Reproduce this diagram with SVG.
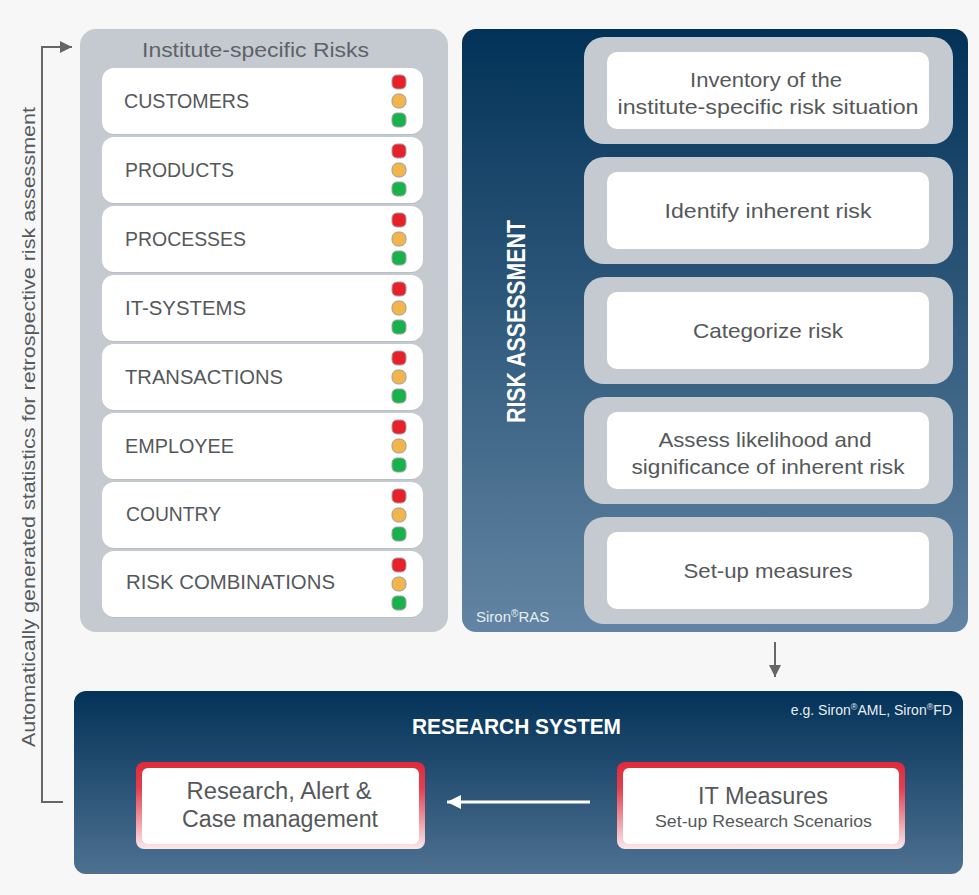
<svg xmlns="http://www.w3.org/2000/svg" width="979" height="895" viewBox="0 0 979 895">
<defs>
<linearGradient id="gRight" x1="0" y1="0" x2="0" y2="1">
<stop offset="0" stop-color="#023258"/>
<stop offset="1" stop-color="#6385a3"/>
</linearGradient>
<linearGradient id="gBottom" x1="0" y1="0" x2="0" y2="1">
<stop offset="0" stop-color="#033258"/>
<stop offset="1" stop-color="#4e7191"/>
</linearGradient>
<linearGradient id="gRed" x1="0" y1="0" x2="0" y2="1">
<stop offset="0" stop-color="#de2a3b"/>
<stop offset="0.3" stop-color="#e2404e"/>
<stop offset="1" stop-color="#fbe9eb"/>
</linearGradient>
<marker id="mGray" viewBox="0 0 10 10" refX="10" refY="5" markerWidth="17" markerHeight="12" markerUnits="userSpaceOnUse" orient="auto">
<path d="M0,0 L10,5 L0,10 Z" fill="#666"/>
</marker>
<marker id="mWhite" viewBox="0 0 10 10" refX="10" refY="5" markerWidth="16" markerHeight="14" markerUnits="userSpaceOnUse" orient="auto">
<path d="M0,0 L10,5 L0,10 Z" fill="#fff"/>
</marker>
</defs>
<style>
text{font-family:"Liberation Sans",Arial,sans-serif}
.ttl{font-size:20px;fill:#5e6367;text-anchor:middle}
.lbl{font-size:20px;fill:#55585b}
.row{fill:#fff}
.rowsh{fill:#b8bfc5}
.gbox{fill:#c4cad0}
.wbox{fill:#fff}
.step{font-size:21px;fill:#55585b;text-anchor:middle}
.red{fill:#e8202a;stroke:#a0a0a0;stroke-width:1}
.yel{fill:#f1b54b;stroke:#a0a0a0;stroke-width:1}
.grn{fill:#18b24c;stroke:#a0a0a0;stroke-width:1}
.rb{font-size:23px;fill:#55585b;text-anchor:middle}
.conn{fill:none;stroke:#666;stroke-width:2}
</style>
<rect x="0" y="0" width="979" height="895" fill="#f7f7f7"/>

<g id="institute-risks">
<rect x="80" y="29" width="368" height="603" rx="16" fill="#c4cacf"/>
<text class="ttl" x="255.5" y="57" textLength="227" lengthAdjust="spacingAndGlyphs">Institute-specific Risks</text>
</g>

<g id="row-customers">
<rect class="rowsh" x="102" y="69" width="321" height="66" rx="12"/>
<rect class="row" x="102" y="68" width="321" height="66" rx="12"/>
<text class="lbl" x="124" y="108" textLength="125" lengthAdjust="spacingAndGlyphs">CUSTOMERS</text>
<rect class="red" x="392" y="75" width="14" height="14" rx="5"/><rect class="yel" x="392" y="94" width="14" height="14" rx="6"/><rect class="grn" x="392" y="113" width="14" height="14" rx="5"/>
</g>
<g id="row-products">
<rect class="rowsh" x="102" y="138" width="321" height="66" rx="12"/>
<rect class="row" x="102" y="137" width="321" height="66" rx="12"/>
<text class="lbl" x="125" y="177" textLength="109" lengthAdjust="spacingAndGlyphs">PRODUCTS</text>
<rect class="red" x="392" y="144" width="14" height="14" rx="5"/><rect class="yel" x="392" y="163" width="14" height="14" rx="6"/><rect class="grn" x="392" y="182" width="14" height="14" rx="5"/>
</g>
<g id="row-processes">
<rect class="rowsh" x="102" y="207" width="321" height="66" rx="12"/>
<rect class="row" x="102" y="206" width="321" height="66" rx="12"/>
<text class="lbl" x="125" y="246" textLength="121" lengthAdjust="spacingAndGlyphs">PROCESSES</text>
<rect class="red" x="392" y="213" width="14" height="14" rx="5"/><rect class="yel" x="392" y="232" width="14" height="14" rx="6"/><rect class="grn" x="392" y="251" width="14" height="14" rx="5"/>
</g>
<g id="row-it-systems">
<rect class="rowsh" x="102" y="276" width="321" height="66" rx="12"/>
<rect class="row" x="102" y="275" width="321" height="66" rx="12"/>
<text class="lbl" x="125" y="315" textLength="121" lengthAdjust="spacingAndGlyphs">IT-SYSTEMS</text>
<rect class="red" x="392" y="282" width="14" height="14" rx="5"/><rect class="yel" x="392" y="301" width="14" height="14" rx="6"/><rect class="grn" x="392" y="320" width="14" height="14" rx="5"/>
</g>
<g id="row-transactions">
<rect class="rowsh" x="102" y="345" width="321" height="66" rx="12"/>
<rect class="row" x="102" y="344" width="321" height="66" rx="12"/>
<text class="lbl" x="125" y="384" textLength="158" lengthAdjust="spacingAndGlyphs">TRANSACTIONS</text>
<rect class="red" x="392" y="351" width="14" height="14" rx="5"/><rect class="yel" x="392" y="370" width="14" height="14" rx="6"/><rect class="grn" x="392" y="389" width="14" height="14" rx="5"/>
</g>
<g id="row-employee">
<rect class="rowsh" x="102" y="414" width="321" height="66" rx="12"/>
<rect class="row" x="102" y="413" width="321" height="66" rx="12"/>
<text class="lbl" x="125" y="453" textLength="109" lengthAdjust="spacingAndGlyphs">EMPLOYEE</text>
<rect class="red" x="392" y="420" width="14" height="14" rx="5"/><rect class="yel" x="392" y="439" width="14" height="14" rx="6"/><rect class="grn" x="392" y="458" width="14" height="14" rx="5"/>
</g>
<g id="row-country">
<rect class="rowsh" x="102" y="483" width="321" height="66" rx="12"/>
<rect class="row" x="102" y="482" width="321" height="66" rx="12"/>
<text class="lbl" x="126" y="521" textLength="95" lengthAdjust="spacingAndGlyphs">COUNTRY</text>
<rect class="red" x="392" y="489" width="14" height="14" rx="5"/><rect class="yel" x="392" y="508" width="14" height="14" rx="6"/><rect class="grn" x="392" y="527" width="14" height="14" rx="5"/>
</g>
<g id="row-risk-combinations">
<rect class="rowsh" x="102" y="552" width="321" height="66" rx="12"/>
<rect class="row" x="102" y="551" width="321" height="66" rx="12"/>
<text class="lbl" x="126" y="589" textLength="209" lengthAdjust="spacingAndGlyphs">RISK COMBINATIONS</text>
<rect class="red" x="392" y="558" width="14" height="14" rx="5"/><rect class="yel" x="392" y="577" width="14" height="14" rx="6"/><rect class="grn" x="392" y="596" width="14" height="14" rx="5"/>
</g>

<g id="risk-assessment">
<rect x="462" y="29" width="506" height="603" rx="14" fill="url(#gRight)"/>
<text transform="translate(525,321.5) rotate(-90)" x="0" y="0" text-anchor="middle" font-size="25" font-weight="bold" fill="#fff" textLength="203" lengthAdjust="spacingAndGlyphs">RISK ASSESSMENT</text>
<text x="476" y="622" font-size="15" fill="#e6edf3">Siron<tspan font-size="10" dy="-5">®</tspan><tspan dy="5">RAS</tspan></text>
</g>

<g id="step-inventory">
<rect class="gbox" x="584" y="37" width="369" height="107" rx="20"/>
<rect class="wbox" x="607" y="52" width="322" height="77" rx="10"/>
<text class="step" x="766" y="87" textLength="152" lengthAdjust="spacingAndGlyphs">Inventory of the</text>
<text class="step" x="768" y="114" textLength="301" lengthAdjust="spacingAndGlyphs">institute-specific risk situation</text>
</g>
<g id="step-identify">
<rect class="gbox" x="584" y="157" width="369" height="107" rx="20"/>
<rect class="wbox" x="607" y="172" width="322" height="77" rx="10"/>
<text class="step" x="768" y="218" textLength="207" lengthAdjust="spacingAndGlyphs">Identify inherent risk</text>
</g>
<g id="step-categorize">
<rect class="gbox" x="584" y="277" width="369" height="107" rx="20"/>
<rect class="wbox" x="607" y="292" width="322" height="77" rx="10"/>
<text class="step" x="768" y="338" textLength="150" lengthAdjust="spacingAndGlyphs">Categorize risk</text>
</g>
<g id="step-assess">
<rect class="gbox" x="584" y="397" width="369" height="107" rx="20"/>
<rect class="wbox" x="607" y="412" width="322" height="77" rx="10"/>
<text class="step" x="765" y="447" textLength="213" lengthAdjust="spacingAndGlyphs">Assess likelihood and</text>
<text class="step" x="768" y="474" textLength="273" lengthAdjust="spacingAndGlyphs">significance of inherent risk</text>
</g>
<g id="step-setup">
<rect class="gbox" x="584" y="517" width="369" height="107" rx="20"/>
<rect class="wbox" x="607" y="532" width="322" height="77" rx="10"/>
<text class="step" x="768" y="578" textLength="169" lengthAdjust="spacingAndGlyphs">Set-up measures</text>
</g>

<g id="research-system">
<rect x="74" y="691" width="889" height="183" rx="12" fill="url(#gBottom)"/>
<text x="516.5" y="734" text-anchor="middle" font-size="22" font-weight="bold" fill="#fff" textLength="209" lengthAdjust="spacingAndGlyphs">RESEARCH SYSTEM</text>
<text x="952" y="715" text-anchor="end" font-size="14" fill="#e6edf3">e.g. Siron<tspan font-size="9" dy="-5">®</tspan><tspan dy="5">AML, Siron</tspan><tspan font-size="9" dy="-5">®</tspan><tspan dy="5">FD</tspan></text>
</g>

<g id="research-alert-case">
<rect x="136" y="762" width="289" height="87" rx="8" fill="url(#gRed)"/>
<rect x="142" y="768" width="277" height="76" rx="6" fill="#fff"/>
<text class="rb" x="279" y="799" textLength="185" lengthAdjust="spacingAndGlyphs">Research, Alert &amp;</text>
<text class="rb" x="280" y="827" textLength="196" lengthAdjust="spacingAndGlyphs">Case management</text>
</g>

<g id="it-measures">
<rect x="617" y="762" width="288" height="87" rx="8" fill="url(#gRed)"/>
<rect x="623" y="768" width="276" height="76" rx="6" fill="#fff"/>
<text class="rb" x="763" y="804" textLength="130" lengthAdjust="spacingAndGlyphs">IT Measures</text>
<text x="763.5" y="827" text-anchor="middle" font-size="17" fill="#55585b" textLength="217" lengthAdjust="spacingAndGlyphs">Set-up Research Scenarios</text>
</g>

<g id="connectors">
<path class="conn" d="M63,802 H42 V47 H72" marker-end="url(#mGray)"/>
<path class="conn" d="M775,642 V677" marker-end="url(#mGray)"/>
<path d="M590,802 H447" fill="none" stroke="#fff" stroke-width="3" marker-end="url(#mWhite)"/>
</g>

<text transform="translate(35,427) rotate(-90)" x="0" y="0" text-anchor="middle" font-size="19" fill="#555a5e" textLength="640" lengthAdjust="spacingAndGlyphs">Automatically generated statistics for retrospective risk assessment</text>
</svg>
